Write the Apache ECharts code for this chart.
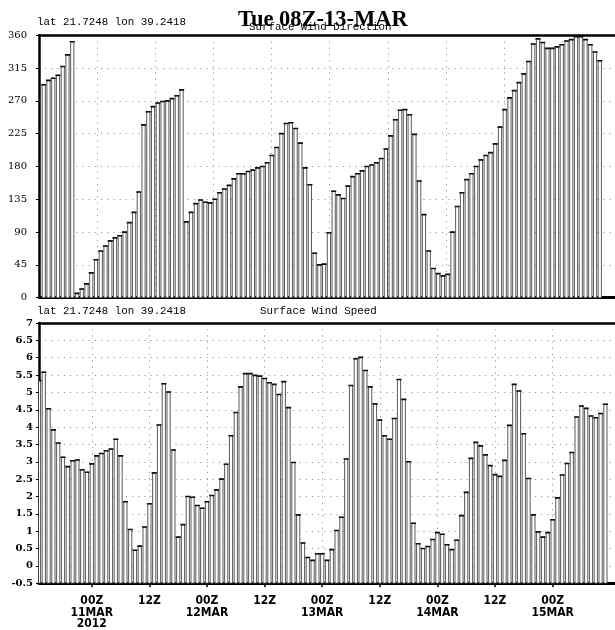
<!DOCTYPE html>
<html>
<head>
<meta charset="utf-8">
<title>Surface wind, lat 21.7248 lon 39.2418</title>
<script src="https://cdn.jsdelivr.net/npm/echarts@6/dist/echarts.min.js"></script>
<style>
  html, body { margin: 0; padding: 0; background: #fff; }
  #chart { width: 615px; height: 630px; }
</style>
</head>
<body>
<div id="chart"></div>
<script>
// Hourly values starting 13Z 10 MAR 2012.
const windDirection = [
  292, 298, 301, 305, 317, 333, 351,
  6, 12, 19, 34, 52, 64, 71, 78, 82, 85, 90, 103, 117, 145,
  237, 255, 262, 267, 269, 270, 273, 277, 285,
  104, 117, 129, 134, 131, 130, 135, 144, 149, 154, 163, 170, 170, 173, 175, 178, 180, 185, 195,
  206, 225, 239, 240, 232, 212,
  178, 155, 61, 45, 46, 89, 146, 141,
  136, 153, 166, 170, 174, 180, 182, 185, 191,
  204, 222, 244, 257, 258, 251, 224,
  160, 114, 64, 40, 33, 30, 32, 90, 125, 144, 162, 170, 180, 189, 195, 199,
  211, 234, 258, 274, 284, 295, 307, 324, 348, 355, 350, 342, 342, 344, 347, 352, 354, 358, 358, 354, 347, 337, 325
];

const windSpeed = [
  5.34, 5.58, 4.53, 3.92, 3.54, 3.13, 2.86, 3.03, 3.05, 2.77, 2.70,
  2.94, 3.17, 3.24, 3.32, 3.37, 3.65, 3.17, 1.85, 1.05, 0.45, 0.57, 1.12,
  1.79, 2.68, 4.06, 5.25, 5.01, 3.34, 0.83, 1.19, 2.00, 1.98, 1.74, 1.66,
  1.85, 2.03, 2.19, 2.50, 2.93, 3.75, 4.42, 5.16, 5.54, 5.54, 5.49, 5.47,
  5.40, 5.28, 5.23, 4.94, 5.31, 4.56, 2.98, 1.47, 0.66, 0.24, 0.16, 0.35,
  0.35, 0.16, 0.47, 1.02, 1.40, 3.08, 5.20, 5.97, 6.01, 5.63, 5.16, 4.67,
  4.20, 3.75, 3.65, 4.25, 5.37, 4.80, 3.00, 1.23, 0.64, 0.50, 0.56, 0.76,
  0.96, 0.91, 0.61, 0.47, 0.74, 1.45, 2.12, 3.10, 3.56, 3.46, 3.20, 2.89,
  2.63, 2.58, 3.04, 4.05, 5.23, 5.04, 3.81, 2.52, 1.47, 0.98, 0.83, 0.96,
  1.33, 1.96, 2.62, 2.95, 3.27, 4.29, 4.61, 4.54, 4.32, 4.27, 4.39, 4.66
];

// Time-axis ticks, in hours after 13Z 10 MAR.
const tickHours = [11, 23, 35, 47, 59, 71, 83, 95, 107];
const tickLabels = ['00Z\n11MAR\n2012', '12Z', '00Z\n12MAR', '12Z', '00Z\n13MAR', '12Z', '00Z\n14MAR', '12Z', '00Z\n15MAR'];

const directionTitle = 'Surface Wind Direction';
const speedTitle = 'Surface Wind Speed';
const locationText = 'lat 21.7248 lon 39.2418';
const timeTitle = 'Tue 08Z-13-MAR';

// Direction panel is indexed from 12Z (first value at 1), speed panel from 13Z (first value at 0).
const directionData = windDirection.map((v, i) => [i + 1, v]);
const speedData = windSpeed.map((v, i) => [i, v]);

const monoFont = "'Liberation Mono', 'DejaVu Sans Mono', monospace";
const serifFont = "'DejaVu Serif', 'Liberation Serif', serif";
const narrowFont = "'Liberation Sans Narrow', 'DejaVu Sans Condensed', 'Roboto', sans-serif";

const dotted = { color: '#9a9a9a', width: 1, type: [1.2, 5] };

function outlinedBars(base) {
  return function (params, api) {
    const x = api.value(0);
    const v = api.value(1);
    const top = api.coord([x, v]);
    const bottom = api.coord([x, base]);
    const half = 1.6;
    return {
      type: 'group',
      children: [
        {
          type: 'rect',
          shape: { x: top[0] - half, y: top[1], width: half * 2, height: bottom[1] - top[1] },
          style: { fill: '#fff', stroke: '#5a5a5a', lineWidth: 1 }
        },
        {
          type: 'line',
          shape: { x1: top[0] - 2.6, y1: top[1], x2: top[0] + 2.6, y2: top[1] },
          style: { stroke: '#111', lineWidth: 1.6 }
        }
      ]
    };
  };
}

const chart = echarts.init(document.getElementById('chart'), null, { renderer: 'canvas' });

const plainText = (text, left, top, size, family, weight) => ({
  text: text,
  left: left,
  top: top,
  padding: 0,
  textStyle: { fontFamily: family, fontSize: size, fontWeight: weight || 'normal', color: '#000' }
});

chart.setOption({
  animation: false,
  backgroundColor: '#fff',
  title: [
    plainText(timeTitle, 238, 9, 22.5, "'Liberation Serif', 'DejaVu Serif', serif", 'bold'),
    plainText(locationText, 37, 17, 10.8, monoFont),
    plainText(directionTitle, 249, 22, 10.8, monoFont),
    plainText(locationText, 37, 306, 10.8, monoFont),
    plainText(speedTitle, 260, 306, 10.8, monoFont)
  ],
  grid: [
    { left: 39, right: -12, top: 35.2, height: 262.5, containLabel: false },
    { left: 39, right: -12, top: 323, height: 261.5, containLabel: false }
  ],
  xAxis: [
    {
      // hourly positions of the direction bars
      gridIndex: 0, type: 'value', min: 0, max: 121.2, position: 'bottom',
      axisLine: { show: true, onZero: false, lineStyle: { color: '#000', width: 3 } },
      axisTick: { show: false }, axisLabel: { show: false }, splitLine: { show: false }
    },
    {
      // 12-hourly guide lines and upper frame of the direction panel
      gridIndex: 0, type: 'value', min: 0, max: 118.9, interval: 12, position: 'top',
      axisLine: { show: true, onZero: false, lineStyle: { color: '#000', width: 2.5 } },
      axisTick: { show: false }, axisLabel: { show: false },
      splitLine: { show: true, lineStyle: dotted }
    },
    {
      gridIndex: 1, type: 'value', min: 0, max: 120, position: 'bottom',
      axisLine: { show: true, onZero: false, lineStyle: { color: '#000', width: 3 } },
      axisTick: { show: true, customValues: tickHours, length: 4, lineStyle: { color: '#000', width: 1.5 } },
      axisLabel: {
        show: true, customValues: tickHours, margin: 12,
        fontFamily: narrowFont, fontWeight: 'bold', fontSize: 12, lineHeight: 11.5, color: '#000',
        formatter: function (value) {
          const k = tickHours.indexOf(Math.round(value));
          return k >= 0 ? tickLabels[k] : '';
        }
      },
      splitLine: { show: true, lineStyle: dotted }
    },
    {
      gridIndex: 1, type: 'value', min: 0, max: 120, position: 'top',
      axisLine: { show: true, onZero: false, lineStyle: { color: '#000', width: 2.5 } },
      axisTick: { show: false }, axisLabel: { show: false }, splitLine: { show: false }
    }
  ],
  yAxis: [
    {
      gridIndex: 0, type: 'value', min: 0, max: 360, interval: 45,
      axisLine: { show: true, onZero: false, lineStyle: { color: '#000', width: 2.5 } },
      axisTick: { show: true, length: 3, lineStyle: { color: '#000' } },
      axisLabel: { show: true, margin: 12, fontFamily: serifFont, fontSize: 10, color: '#000' },
      splitLine: { show: true, lineStyle: dotted }
    },
    {
      gridIndex: 1, type: 'value', min: -0.5, max: 7, interval: 0.5,
      axisLine: { show: true, onZero: false, lineStyle: { color: '#000', width: 2.5 } },
      axisTick: { show: true, length: 3, lineStyle: { color: '#000' } },
      axisLabel: { show: true, margin: 6, fontFamily: serifFont, fontWeight: 'bold', fontSize: 10, color: '#000' },
      splitLine: { show: true, lineStyle: dotted }
    }
  ],
  series: [
    {
      name: directionTitle, type: 'custom', xAxisIndex: 0, yAxisIndex: 0, clip: true,
      renderItem: outlinedBars(0), encode: { x: 0, y: 1 }, data: directionData
    },
    {
      name: speedTitle, type: 'custom', xAxisIndex: 2, yAxisIndex: 1, clip: true,
      renderItem: outlinedBars(-0.5), encode: { x: 0, y: 1 }, data: speedData
    }
  ]
});
</script>
</body>
</html>
